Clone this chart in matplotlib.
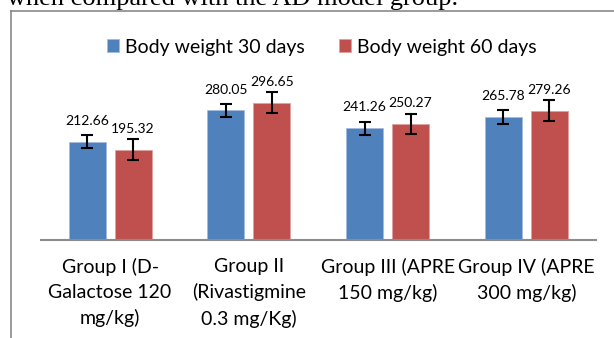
import numpy as np
import matplotlib.pyplot as plt
from matplotlib.lines import Line2D

groups = ["Group I (D-\nGalactose 120\nmg/kg)",
          "Group II\n(Rivastigmine\n0.3 mg/Kg)",
          "Group III (APRE\n150 mg/kg)",
          "Group IV (APRE\n300 mg/kg)"]
bw_30 = [212.66, 280.05, 241.26, 265.78]
bw_60 = [195.32, 296.65, 250.27, 279.26]
err_30 = [14.8, 14.7, 14.7, 15]
err_60 = [22.7, 22.7, 22, 22.7]

blue = "#4F81BD"
red = "#C0504D"

W, H = 614, 338
fig = plt.figure(figsize=(W / 100, H / 100), dpi=100)

# plot area: baseline at y=240px, x from 40.7 to 595.7 px
ax = fig.add_axes([40.7 / W, (H - 240) / H, 555 / W, 162 / H])
x = np.arange(len(groups))
width = 0.267
off = 0.166

ax.bar(x - off, bw_30, width, color=blue, edgecolor="#A3BCDD", linewidth=0.6,
       label="Body weight 30 days")
ax.bar(x + off, bw_60, width, color=red, edgecolor="#DDA09E", linewidth=0.6,
       label="Body weight 60 days")
ax.errorbar(x - off, bw_30, yerr=err_30, fmt="none", ecolor="black",
            elinewidth=1.5, capsize=4, capthick=1.5)
ax.errorbar(x + off, bw_60, yerr=err_60, fmt="none", ecolor="black",
            elinewidth=1.5, capsize=4, capthick=1.5)

for xs, vals in [(x - off, bw_30), (x + off, bw_60)]:
    for xi, v in zip(xs, vals):
        ax.annotate(f"{v:.2f}", (xi, v), xytext=(0, 15), textcoords="offset points",
                    ha="center", va="center", fontsize=10, family="Lato")

ax.set_xlim(-0.5, 3.5)
ax.set_ylim(0, 350)
ax.set_yticks([])
ax.set_xticks(x)
ax.set_xticklabels(groups, fontsize=14, family="Lato", linespacing=1.55)
ax.tick_params(axis="x", length=0, pad=13)
for s in ["top", "left", "right"]:
    ax.spines[s].set_visible(False)
ax.spines["bottom"].set_color("#8C8C8C")
ax.spines["bottom"].set_linewidth(1.5)

fig.legend(loc="center", bbox_to_anchor=(321.7 / W, 1 - 47 / H), ncol=2, frameon=False,
           prop={"family": "Lato", "size": 14}, handlelength=0.6, handleheight=0.6,
           handletextpad=0.3, columnspacing=1.8)

# outer frame of the embedded chart
fig.add_artist(Line2D([11 / W, 1], [1 - 10.7 / H, 1 - 10.7 / H], color="#808080", lw=1.1))
fig.add_artist(Line2D([11 / W, 11 / W], [0, 1 - 10.7 / H], color="#808080", lw=1.1))

# cut-off line of document text above the chart
fig.text(7 / W, 1 - 5.5 / H, "when compared with the AD model group.", fontsize=19,
         family="Liberation Serif", va="baseline", ha="left")

fig.savefig("out.png", dpi=100)
